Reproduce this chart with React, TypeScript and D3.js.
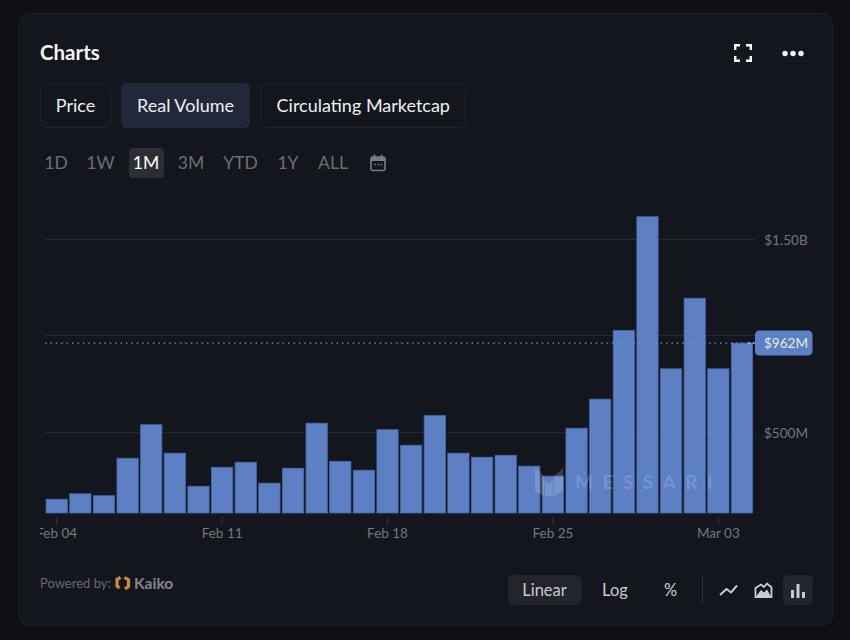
import React from "react";
import * as d3 from "d3";

const dates = ["Feb 04","Feb 05","Feb 06","Feb 07","Feb 08","Feb 09","Feb 10","Feb 11","Feb 12","Feb 13","Feb 14","Feb 15","Feb 16","Feb 17","Feb 18","Feb 19","Feb 20","Feb 21","Feb 22","Feb 23","Feb 24","Feb 25","Feb 26","Feb 27","Feb 28","Feb 29","Mar 01","Mar 02","Mar 03","Mar 04"];
const volumes = [155,183,173,367,540,393,222,320,346,238,315,548,351,305,514,434,587,393,372,382,326,274,522,672,1028,1615,829,1194,829,962];
const xTicks = ["Feb 04","Feb 11","Feb 18","Feb 25","Mar 03"];
const yTicks = [500,1000,1500];
const yTickLabels: Record<number,string> = {500:"$500M",1500:"$1.50B"};
const latestValue = 962;
const latestLabel = "$962M";
const tabs = ["Price","Real Volume","Circulating Marketcap"];
const ranges = ["1D","1W","1M","3M","YTD","1Y","ALL"];

const FONT = "Lato, 'Open Sans', sans-serif";
const BLUE = "#5d80c5";

const x = d3.scaleBand<string>().domain(dates).range([44.9,753.8]).paddingInner(0.1).paddingOuter(0.05);
const y = d3.scaleLinear().domain([0,1500]).range([529.2,239]);
const BASE = 513;
const cx = (d: string) => (x(d) as number) + x.bandwidth()/2;

const tabBoxes = [[40,71],[121,129],[260.5,205.5]];
const rangeCx = [56,100.5,146,191,240.5,288,333];

export default function App() {
  return (
    <svg width={850} height={640} style={{position:"fixed",left:0,top:0,display:"block"}} fontFamily={FONT}>
      <defs>
        <clipPath id="xclip"><rect x={40} y={510} width={730} height={40}/></clipPath>
      </defs>
      <rect width={850} height={640} fill="#0e1014"/>
      <rect x={19.5} y={13.5} width={813} height={612} rx={10} fill="#13161d" stroke="#1e2128"/>

      <text x={40} y={59.5} fontSize={20.5} fontWeight={700} fill="#f4f5f7">Charts</text>
      <g fill="none" stroke="#fff" strokeWidth={2.4}>
        <path d="M735.2 50V45.2H740M746 45.2H750.8V50M750.8 56V60.8H746M740 60.8H735.2V56"/>
      </g>
      <g fill="#f2f3f5">
        <circle cx={785} cy={53.5} r={2.7}/><circle cx={793} cy={53.5} r={2.7}/><circle cx={801} cy={53.5} r={2.7}/>
      </g>

      {tabs.map((t,i)=>(
        <g key={t}>
          <rect x={tabBoxes[i][0]+.5} y={83.5} width={tabBoxes[i][1]-1} height={44} rx={5}
            fill={i===1?"#22283a":"none"} stroke={i===1?"#22283a":"#1f232c"}/>
          <text x={tabBoxes[i][0]+tabBoxes[i][1]/2} y={111.5} textAnchor="middle" fontSize={18} fill="#eef0f3">{t}</text>
        </g>
      ))}

      <rect x={129} y={148} width={35} height={30} rx={4} fill="#2c2e35"/>
      {ranges.map((r,i)=>(
        <text key={r} x={rangeCx[i]} y={169} textAnchor="middle" fontSize={17.5} fill={r==="1M"?"#fff":"#6c6f76"}>{r}</text>
      ))}
      <g>
        <rect x={371} y={157} width={14} height={13.5} rx={2} fill="none" stroke="#7a7d84" strokeWidth={1.6}/>
        <rect x={371} y={157} width={14} height={4} fill="#7a7d84"/>
        <path d="M374.5 154.5v3M381.5 154.5v3" stroke="#7a7d84" strokeWidth={1.6}/>
        <path d="M374.5 164.5h1.5M377.5 164.5h1.5M380.5 164.5h1.5" stroke="#7a7d84" strokeWidth={1.4}/>
      </g>

      {yTicks.map(t=>(
        <line key={t} x1={45} x2={755} y1={Math.floor(y(t))+.5} y2={Math.floor(y(t))+.5} stroke="#262a33"/>
      ))}

      {dates.map((d,i)=>(
        <rect key={d} x={x(d)} y={y(volumes[i])} width={x.bandwidth()} height={BASE-y(volumes[i])}
          fill={BLUE} stroke="#4a68a6" strokeWidth={0.8}/>
      ))}

      <line x1={45} x2={755} y1={y(latestValue)} y2={y(latestValue)} stroke="#6f93dd" strokeWidth={1.4} strokeDasharray="1.5 3.9"/>
      <line x1={748} x2={760} y1={y(latestValue)} y2={y(latestValue)} stroke="#c9d4ea" strokeWidth={1} strokeDasharray="3 2"/>
      <rect x={755} y={330.5} width={57.5} height={25} rx={4.5} fill={BLUE}/>
      <text x={786} y={348} textAnchor="middle" fontSize={13.6} fill="#e6ebf5">{latestLabel}</text>
      {yTicks.filter(t=>yTickLabels[t]).map(t=>(
        <text key={t} x={786} y={y(t)+5.5} textAnchor="middle" fontSize={13.6} fill="#73767d">{yTickLabels[t]}</text>
      ))}

      <g clipPath="url(#xclip)">
        {xTicks.map(t=>(
          <g key={t}>
            <line x1={cx(t)} x2={cx(t)} y1={516.5} y2={525} stroke="#33363d"/>
            <text x={cx(t)} y={538} textAnchor="middle" fontSize={13.5} fill="#75787f">{t}</text>
          </g>
        ))}
      </g>

      <g opacity={0.2} fill="#dfe3ea">
        <path d="M535 468l9 8v20l-9-5zM563 468l-9 8v20l9-5zM545 480l4 4 4-4v16l-4 0-4 0z"/>
        <text x={575} y={488.5} fontSize={19} fontWeight={700} letterSpacing={9.5}>MESSARI</text>
      </g>

      <text x={40} y={588} fontSize={13} fill="#676a71">Powered by:</text>
      <g fill="none" stroke="#d08a32" strokeWidth={3.2}>
        <path d="M120.5 577.5L117 579.5V586L119.5 588"/>
        <path d="M124.5 577.5L128.5 580V586.5L125 589"/>
      </g>
      <text x={134} y={589} fontSize={15.5} fontWeight={700} fill="#85878c">Kaiko</text>

      <rect x={508} y={575} width={73.5} height={30} rx={5} fill="#22252c"/>
      <text x={544.5} y={595.5} textAnchor="middle" fontSize={16.5} fill="#c8cace">Linear</text>
      <text x={615} y={595.5} textAnchor="middle" fontSize={16.5} fill="#c8cace">Log</text>
      <text x={670.5} y={595.5} textAnchor="middle" fontSize={16.5} fill="#c8cace">%</text>
      <line x1={702.5} x2={702.5} y1={575} y2={605} stroke="#2b2e35"/>
      <path d="M720 595L726.5 589L731 592.5L737 585.5" fill="none" stroke="#c9cbcf" strokeWidth={2}/>
      <path d="M755.5 597V588L761 584.5L764 587L767 583.5L771.5 587.5V597Z" fill="none" stroke="#c9cbcf" strokeWidth={1.8}/>
      <path d="M756 596.5L761 590L764 592.5L767 589.5L771 596.5Z" fill="#c9cbcf"/>
      <rect x={783} y={575} width={30} height={30} rx={5} fill="#22252c"/>
      <path d="M792.5 590v8M798 584v14M803.5 592v6" stroke="#c9cbcf" strokeWidth={3}/>
    </svg>
  );
}
